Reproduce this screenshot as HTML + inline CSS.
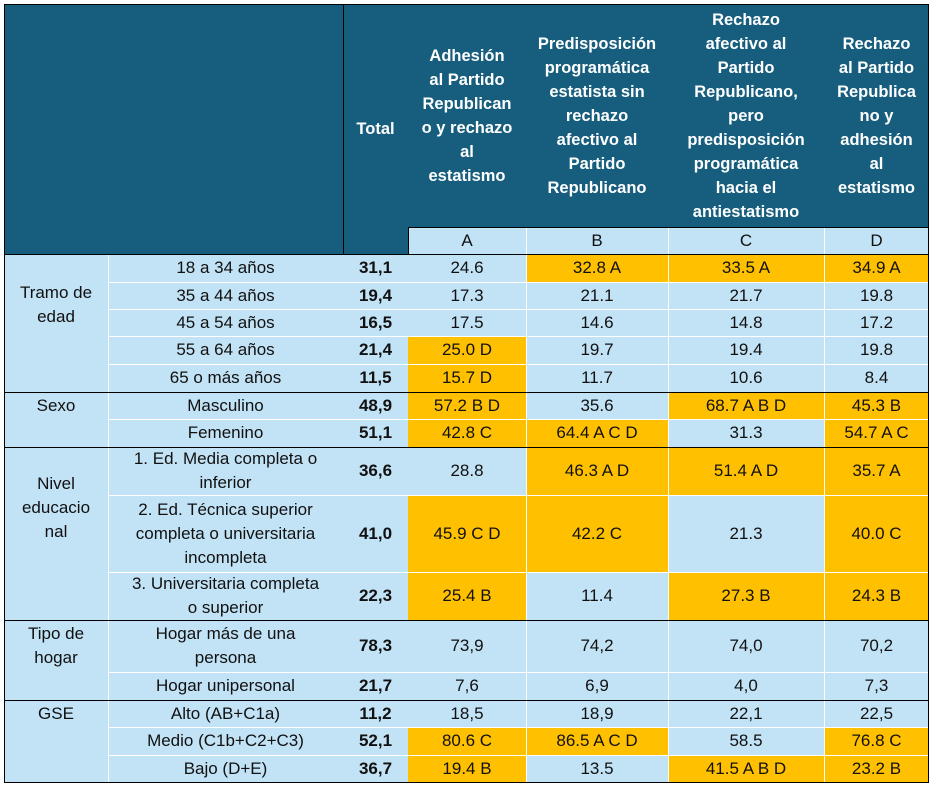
<!DOCTYPE html>
<html><head><meta charset="utf-8"><style>
body{margin:0;width:938px;height:790px;background:#fff;position:relative;font-family:"Liberation Sans",Arial,sans-serif;overflow:hidden}
.c{position:absolute;display:flex;align-items:center;justify-content:center;text-align:center;box-sizing:border-box;font-size:17px;color:#111;line-height:24px;white-space:nowrap}
.h{background:#175E7E;color:#fff;font-weight:bold;font-size:16.5px}
.l{background:#C2E2F5}
.o{background:#FFC000}
.b{font-weight:bold}
.hl{position:absolute;height:1px;background:#fff}
.vl{position:absolute;width:1px;background:#fff}
.k{background:#000}
</style></head><body>
<div class="c h" style="left:4px;top:4px;width:925px;height:250px"></div>
<div class="c h" style="left:343px;top:4px;width:65px;height:250px">Total</div>
<div class="c h" style="left:408px;top:4px;width:118px;height:223px">Adhesión<br>al Partido<br>Republican<br>o y rechazo<br>al<br>estatismo</div>
<div class="c h" style="left:526px;top:4px;width:142px;height:223px">Predisposición<br>programática<br>estatista sin<br>rechazo<br>afectivo al<br>Partido<br>Republicano</div>
<div class="c h" style="left:668px;top:4px;width:156px;height:223px">Rechazo<br>afectivo al<br>Partido<br>Republicano,<br>pero<br>predisposición<br>programática<br>hacia el<br>antiestatismo</div>
<div class="c h" style="left:824px;top:4px;width:105px;height:223px">Rechazo<br>al Partido<br>Republica<br>no y<br>adhesión<br>al<br>estatismo</div>
<div class="c l" style="left:408px;top:227px;width:118px;height:27px">A</div>
<div class="c l" style="left:526px;top:227px;width:142px;height:27px">B</div>
<div class="c l" style="left:668px;top:227px;width:156px;height:27px">C</div>
<div class="c l" style="left:824px;top:227px;width:105px;height:27px">D</div>
<div class="vl" style="left:526px;top:227px;height:27px"></div>
<div class="vl" style="left:668px;top:227px;height:27px"></div>
<div class="vl" style="left:824px;top:227px;height:27px"></div>
<div class="hl k" style="left:408px;top:227px;width:521px"></div>
<div class="vl k" style="left:408px;top:227px;height:27px"></div>
<div class="vl k" style="left:343px;top:4px;height:250px"></div>

<div class="c l" style="left:4px;top:254px;width:925px;height:529px"></div>

<div class="c" style="left:4px;top:254px;width:104px;height:138px;padding-bottom:36px">Tramo de<br>edad</div>
<div class="c" style="left:4px;top:392px;width:104px;height:55px;padding-bottom:27px">Sexo</div>
<div class="c" style="left:4px;top:447px;width:104px;height:173px;padding-bottom:52px">Nivel<br>educacio<br>nal</div>
<div class="c" style="left:4px;top:620px;width:104px;height:80px;padding-bottom:28px">Tipo de<br>hogar</div>
<div class="c" style="left:4px;top:700px;width:104px;height:83px;padding-bottom:55px">GSE</div>

<div class="c" style="left:108px;top:254px;width:235px;height:28px">18 a 34 años</div>
<div class="c b" style="left:343px;top:254px;width:65px;height:28px">31,1</div>
<div class="c" style="left:408px;top:254px;width:118px;height:28px">24.6</div>
<div class="c o" style="left:526px;top:254px;width:142px;height:28px">32.8 A</div>
<div class="c o" style="left:668px;top:254px;width:156px;height:28px">33.5 A</div>
<div class="c o" style="left:824px;top:254px;width:105px;height:28px">34.9 A</div>
<div class="c" style="left:108px;top:282px;width:235px;height:27px">35 a 44 años</div>
<div class="c b" style="left:343px;top:282px;width:65px;height:27px">19,4</div>
<div class="c" style="left:408px;top:282px;width:118px;height:27px">17.3</div>
<div class="c" style="left:526px;top:282px;width:142px;height:27px">21.1</div>
<div class="c" style="left:668px;top:282px;width:156px;height:27px">21.7</div>
<div class="c" style="left:824px;top:282px;width:105px;height:27px">19.8</div>
<div class="c" style="left:108px;top:309px;width:235px;height:27px">45 a 54 años</div>
<div class="c b" style="left:343px;top:309px;width:65px;height:27px">16,5</div>
<div class="c" style="left:408px;top:309px;width:118px;height:27px">17.5</div>
<div class="c" style="left:526px;top:309px;width:142px;height:27px">14.6</div>
<div class="c" style="left:668px;top:309px;width:156px;height:27px">14.8</div>
<div class="c" style="left:824px;top:309px;width:105px;height:27px">17.2</div>
<div class="c" style="left:108px;top:336px;width:235px;height:28px">55 a 64 años</div>
<div class="c b" style="left:343px;top:336px;width:65px;height:28px">21,4</div>
<div class="c o" style="left:408px;top:336px;width:118px;height:28px">25.0 D</div>
<div class="c" style="left:526px;top:336px;width:142px;height:28px">19.7</div>
<div class="c" style="left:668px;top:336px;width:156px;height:28px">19.4</div>
<div class="c" style="left:824px;top:336px;width:105px;height:28px">19.8</div>
<div class="c" style="left:108px;top:364px;width:235px;height:28px">65 o más años</div>
<div class="c b" style="left:343px;top:364px;width:65px;height:28px">11,5</div>
<div class="c o" style="left:408px;top:364px;width:118px;height:28px">15.7 D</div>
<div class="c" style="left:526px;top:364px;width:142px;height:28px">11.7</div>
<div class="c" style="left:668px;top:364px;width:156px;height:28px">10.6</div>
<div class="c" style="left:824px;top:364px;width:105px;height:28px">8.4</div>
<div class="c" style="left:108px;top:392px;width:235px;height:27px">Masculino</div>
<div class="c b" style="left:343px;top:392px;width:65px;height:27px">48,9</div>
<div class="c o" style="left:408px;top:392px;width:118px;height:27px">57.2 B D</div>
<div class="c" style="left:526px;top:392px;width:142px;height:27px">35.6</div>
<div class="c o" style="left:668px;top:392px;width:156px;height:27px">68.7 A B D</div>
<div class="c o" style="left:824px;top:392px;width:105px;height:27px">45.3 B</div>
<div class="c" style="left:108px;top:419px;width:235px;height:28px">Femenino</div>
<div class="c b" style="left:343px;top:419px;width:65px;height:28px">51,1</div>
<div class="c o" style="left:408px;top:419px;width:118px;height:28px">42.8 C</div>
<div class="c o" style="left:526px;top:419px;width:142px;height:28px">64.4 A C D</div>
<div class="c" style="left:668px;top:419px;width:156px;height:28px">31.3</div>
<div class="c o" style="left:824px;top:419px;width:105px;height:28px">54.7 A C</div>
<div class="c" style="left:108px;top:447px;width:235px;height:48px">1. Ed. Media completa o<br>inferior</div>
<div class="c b" style="left:343px;top:447px;width:65px;height:48px">36,6</div>
<div class="c" style="left:408px;top:447px;width:118px;height:48px">28.8</div>
<div class="c o" style="left:526px;top:447px;width:142px;height:48px">46.3 A D</div>
<div class="c o" style="left:668px;top:447px;width:156px;height:48px">51.4 A D</div>
<div class="c o" style="left:824px;top:447px;width:105px;height:48px">35.7 A</div>
<div class="c" style="left:108px;top:495px;width:235px;height:77px">2. Ed. Técnica superior<br>completa o universitaria<br>incompleta</div>
<div class="c b" style="left:343px;top:495px;width:65px;height:77px">41,0</div>
<div class="c o" style="left:408px;top:495px;width:118px;height:77px">45.9 C D</div>
<div class="c o" style="left:526px;top:495px;width:142px;height:77px">42.2 C</div>
<div class="c" style="left:668px;top:495px;width:156px;height:77px">21.3</div>
<div class="c o" style="left:824px;top:495px;width:105px;height:77px">40.0 C</div>
<div class="c" style="left:108px;top:572px;width:235px;height:48px">3. Universitaria completa<br>o superior</div>
<div class="c b" style="left:343px;top:572px;width:65px;height:48px">22,3</div>
<div class="c o" style="left:408px;top:572px;width:118px;height:48px">25.4 B</div>
<div class="c" style="left:526px;top:572px;width:142px;height:48px">11.4</div>
<div class="c o" style="left:668px;top:572px;width:156px;height:48px">27.3 B</div>
<div class="c o" style="left:824px;top:572px;width:105px;height:48px">24.3 B</div>
<div class="c" style="left:108px;top:620px;width:235px;height:52px">Hogar más de una<br>persona</div>
<div class="c b" style="left:343px;top:620px;width:65px;height:52px">78,3</div>
<div class="c" style="left:408px;top:620px;width:118px;height:52px">73,9</div>
<div class="c" style="left:526px;top:620px;width:142px;height:52px">74,2</div>
<div class="c" style="left:668px;top:620px;width:156px;height:52px">74,0</div>
<div class="c" style="left:824px;top:620px;width:105px;height:52px">70,2</div>
<div class="c" style="left:108px;top:672px;width:235px;height:28px">Hogar unipersonal</div>
<div class="c b" style="left:343px;top:672px;width:65px;height:28px">21,7</div>
<div class="c" style="left:408px;top:672px;width:118px;height:28px">7,6</div>
<div class="c" style="left:526px;top:672px;width:142px;height:28px">6,9</div>
<div class="c" style="left:668px;top:672px;width:156px;height:28px">4,0</div>
<div class="c" style="left:824px;top:672px;width:105px;height:28px">7,3</div>
<div class="c" style="left:108px;top:700px;width:235px;height:27px">Alto (AB+C1a)</div>
<div class="c b" style="left:343px;top:700px;width:65px;height:27px">11,2</div>
<div class="c" style="left:408px;top:700px;width:118px;height:27px">18,5</div>
<div class="c" style="left:526px;top:700px;width:142px;height:27px">18,9</div>
<div class="c" style="left:668px;top:700px;width:156px;height:27px">22,1</div>
<div class="c" style="left:824px;top:700px;width:105px;height:27px">22,5</div>
<div class="c" style="left:108px;top:727px;width:235px;height:28px">Medio (C1b+C2+C3)</div>
<div class="c b" style="left:343px;top:727px;width:65px;height:28px">52,1</div>
<div class="c o" style="left:408px;top:727px;width:118px;height:28px">80.6 C</div>
<div class="c o" style="left:526px;top:727px;width:142px;height:28px">86.5 A C D</div>
<div class="c" style="left:668px;top:727px;width:156px;height:28px">58.5</div>
<div class="c o" style="left:824px;top:727px;width:105px;height:28px">76.8 C</div>
<div class="c" style="left:108px;top:755px;width:235px;height:28px">Bajo (D+E)</div>
<div class="c b" style="left:343px;top:755px;width:65px;height:28px">36,7</div>
<div class="c o" style="left:408px;top:755px;width:118px;height:28px">19.4 B</div>
<div class="c" style="left:526px;top:755px;width:142px;height:28px">13.5</div>
<div class="c o" style="left:668px;top:755px;width:156px;height:28px">41.5 A B D</div>
<div class="c o" style="left:824px;top:755px;width:105px;height:28px">23.2 B</div>

<div class="vl" style="left:108px;top:254px;height:529px"></div>
<div class="vl" style="left:526px;top:254px;height:529px"></div>
<div class="vl" style="left:668px;top:254px;height:529px"></div>
<div class="vl" style="left:824px;top:254px;height:529px"></div>
<div class="hl" style="left:108px;top:282px;width:821px"></div>
<div class="hl" style="left:108px;top:309px;width:821px"></div>
<div class="hl" style="left:108px;top:336px;width:821px"></div>
<div class="hl" style="left:108px;top:364px;width:821px"></div>
<div class="hl" style="left:108px;top:419px;width:821px"></div>
<div class="hl" style="left:108px;top:495px;width:821px"></div>
<div class="hl" style="left:108px;top:572px;width:821px"></div>
<div class="hl" style="left:108px;top:672px;width:821px"></div>
<div class="hl" style="left:108px;top:727px;width:821px"></div>
<div class="hl" style="left:108px;top:755px;width:821px"></div>
<div class="hl k" style="left:4px;top:254px;width:925px"></div>
<div class="hl k" style="left:4px;top:392px;width:925px"></div>
<div class="hl k" style="left:4px;top:447px;width:925px"></div>
<div class="hl k" style="left:4px;top:620px;width:925px"></div>
<div class="hl k" style="left:4px;top:700px;width:925px"></div>
<div style="position:absolute;left:4px;top:4px;width:925px;height:779px;border:1px solid #000;box-sizing:border-box"></div>
</body></html>
